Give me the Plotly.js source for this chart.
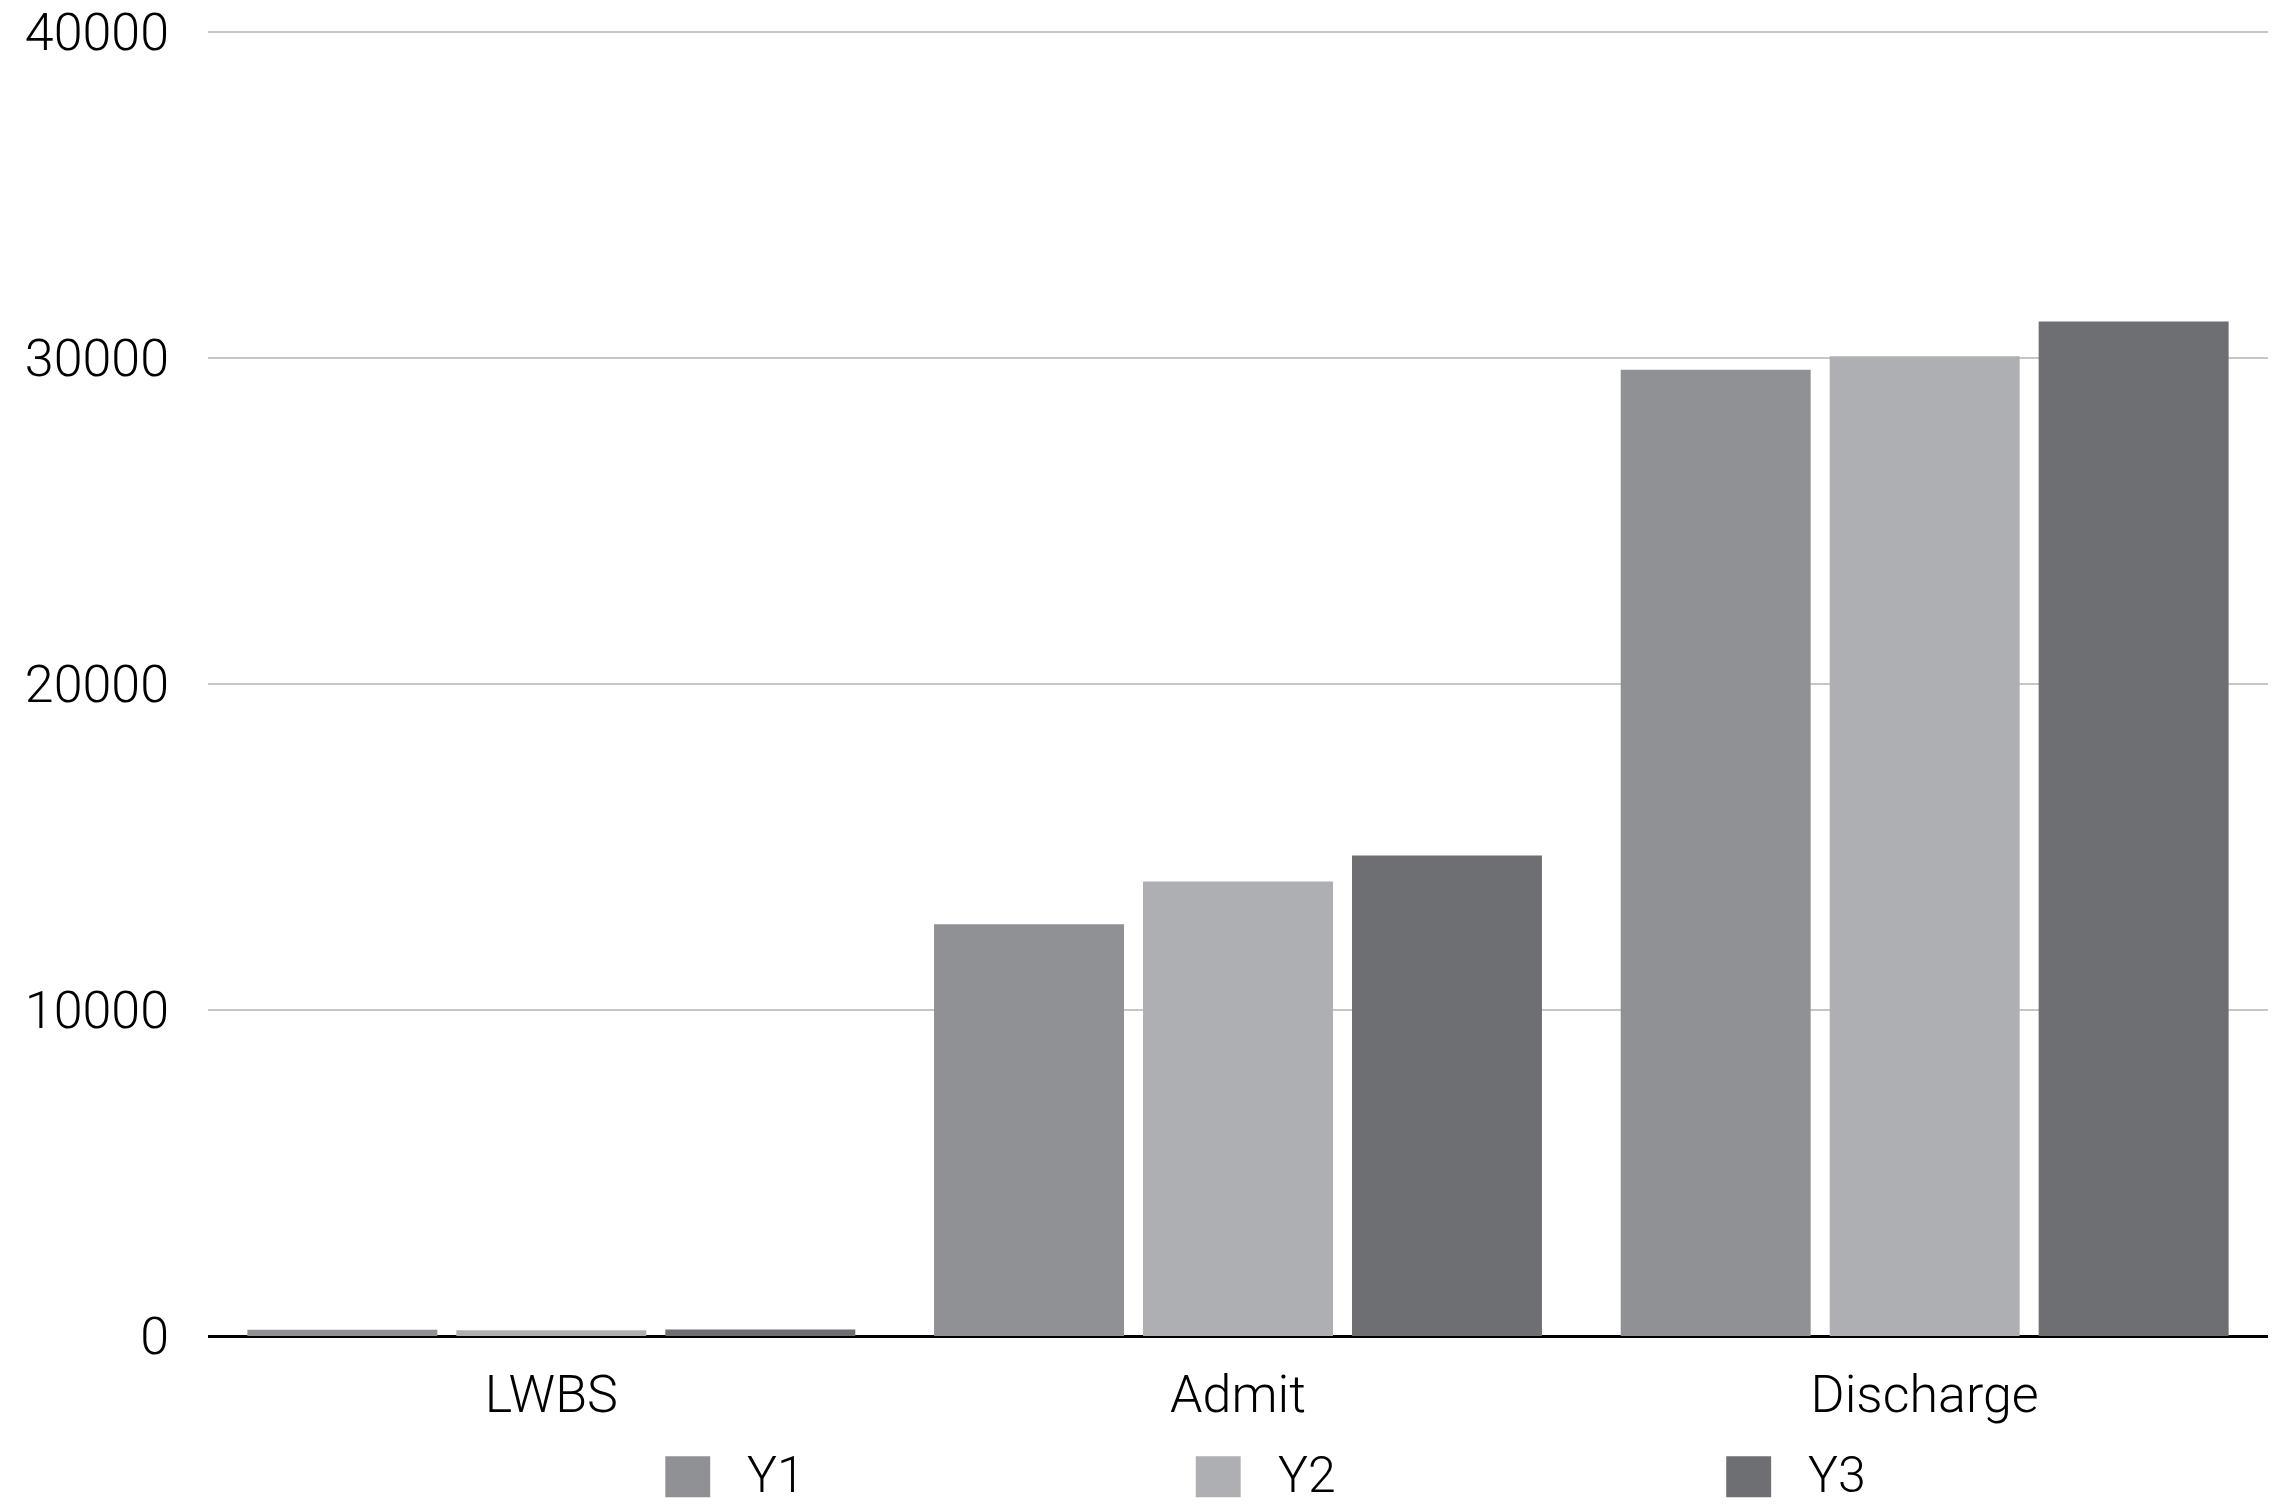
<!DOCTYPE html>
<html>
<head>
<meta charset="utf-8">
<script src="https://cdn.plot.ly/plotly-3.0.1.min.js"></script>
<style>html,body{margin:0;padding:0;background:#fff;}#chart{width:2277px;height:1504px;}</style>
</head>
<body>
<div id="chart"></div>
<script>
// Data
var categories = ["LWBS", "Admit", "Discharge"];
var seriesNames = ["Y1", "Y2", "Y3"];
var y1Values = [190, 12630, 29640];
var y2Values = [180, 13940, 30050];
var y3Values = [200, 14740, 31120];
var yTickValues = [0, 10000, 20000, 30000, 40000];
var yTickLabels = ["0", "10000", "20000", "30000", "40000"];

var seriesValues = [y1Values, y2Values, y3Values];
var seriesColors = ["#8f9195", "#aeafb2", "#6e6f73"];

var FONT = "Roboto, 'Open Sans', sans-serif";

var traces = seriesNames.map(function (name, i) {
  return {
    type: "bar",
    name: name,
    x: categories,
    y: seriesValues[i],
    marker: { color: seriesColors[i], line: { width: 0 } },
    showlegend: false,
    hoverinfo: "x+y+name"
  };
});

// Custom legend (large square swatches) built from the series arrays
var shapes = [];
var annotations = [];
var legendStart = 0.222, legendStep = 0.2575;
seriesNames.forEach(function (name, i) {
  var x0 = legendStart + i * legendStep;
  shapes.push({
    type: "rect", xref: "paper", yref: "paper",
    x0: x0, x1: x0 + 0.0218, y0: -0.1235, y1: -0.092,
    fillcolor: seriesColors[i], line: { width: 0 }
  });
  annotations.push({
    xref: "paper", yref: "paper",
    x: x0 + 0.0389, y: -0.1065,
    xanchor: "left", yanchor: "middle",
    text: name, showarrow: false,
    font: { family: FONT, size: 50, color: "#000", weight: 300 }
  });
});

var layout = {
  width: 2277,
  height: 1504,
  margin: { l: 208, r: 9, t: 30, b: 168, pad: 0 },
  paper_bgcolor: "#ffffff",
  plot_bgcolor: "#ffffff",
  barmode: "group",
  bargap: 0.087,
  bargroupgap: 0.091,
  showlegend: false,
  font: { family: FONT, size: 52, color: "#000", weight: 300 },
  xaxis: {
    type: "category",
    showgrid: false,
    showline: false,
    zeroline: false,
    ticks: "",
    ticklabelstandoff: 23,
    tickfont: { family: FONT, size: 52, color: "#000", weight: 300 }
  },
  yaxis: {
    range: [0, 40060],
    autorange: false,
    tickvals: yTickValues,
    ticktext: yTickLabels,
    showgrid: true,
    gridcolor: "#c6c6c6",
    gridwidth: 2,
    zeroline: true,
    zerolinecolor: "#000000",
    zerolinewidth: 3,
    showline: false,
    ticks: "",
    ticklabelstandoff: 38,
    tickfont: { family: FONT, size: 52, color: "#000", weight: 300 }
  },
  shapes: shapes,
  annotations: annotations
};

Plotly.newPlot("chart", traces, layout, { displayModeBar: false, staticPlot: true });
</script>
</body>
</html>
